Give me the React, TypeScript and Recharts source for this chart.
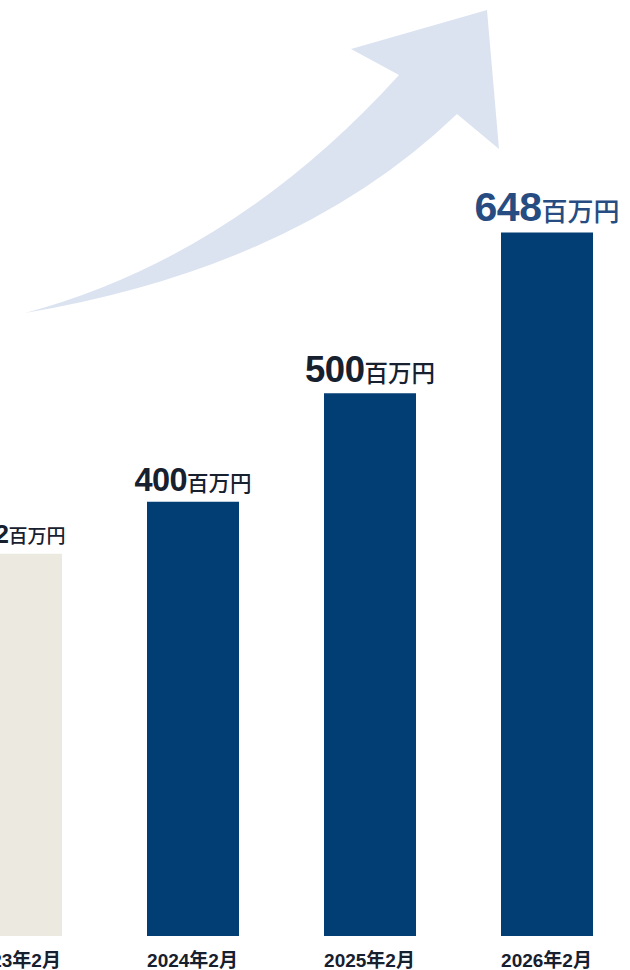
import React from 'react';
import { BarChart, Bar, XAxis, YAxis, Cell, LabelList } from 'recharts';

const categories = ['2023年2月', '2024年2月', '2025年2月', '2026年2月'];
const revenue = [352, 400, 500, 648];
const unit = '百万円';

const data = categories.map((c, i) => ({ name: c, value: revenue[i] }));

const barColors = ['#ECE9E1', '#023D74', '#023D74', '#023D74'];
const labelColors = ['#17202E', '#17202E', '#17202E', '#264C82'];
const numSizes = [26, 32.5, 36.5, 41];
const unitSizes = [19, 21.5, 23.5, 26];

const FONT = '"Liberation Sans", Arial, "Noto Sans CJK JP", sans-serif';
const CJK = '"Noto Sans CJK JP", sans-serif';

const renderLabel = (props: any) => {
  const { x, y, width, index, value } = props;
  const cx = x + width / 2;
  return (
    <text x={cx} y={y - 11} textAnchor="middle" fill={labelColors[index]} fontFamily={FONT}>
      <tspan fontSize={numSizes[index]} fontWeight={700} letterSpacing={-0.5}>{value}</tspan>
      <tspan fontSize={unitSizes[index]} fontWeight={500} fontFamily={CJK}>{unit}</tspan>
    </text>
  );
};

const renderTick = (props: any) => {
  const { x, y, payload } = props;
  return (
    <text x={x} y={y + 31} textAnchor="middle" fill="#17202E" fontSize={19} fontWeight={700} fontFamily={FONT}>
      {payload.value}
    </text>
  );
};

export default function App() {
  return (
    <div style={{ position: 'absolute', left: 0, top: 0, width: 630, height: 970, overflow: 'hidden', background: '#fff' }}>
      <svg width={630} height={970} style={{ position: 'absolute', left: 0, top: 0 }}>
        <path
          d="M25,313 Q234,257 399,75 L351,49 L487,10 L499,149 L457,114 Q298,267 25,313 Z"
          fill="#DCE3F0"
        />
      </svg>
      <div style={{ position: 'absolute', left: -73, top: 0 }}>
        <BarChart width={708} height={970} data={data} margin={{ top: 176, right: 0, bottom: 0, left: 0 }}>
          <YAxis hide domain={[0, 700]} />
          <XAxis
            dataKey="name"
            axisLine={false}
            tickLine={false}
            tickSize={0}
            tickMargin={0}
            height={34}
            interval={0}
            tick={renderTick}
          />
          <Bar dataKey="value" barSize={92} isAnimationActive={false}>
            {data.map((d, i) => (
              <Cell key={d.name} fill={barColors[i]} />
            ))}
            <LabelList dataKey="value" content={renderLabel} />
          </Bar>
        </BarChart>
      </div>
    </div>
  );
}
